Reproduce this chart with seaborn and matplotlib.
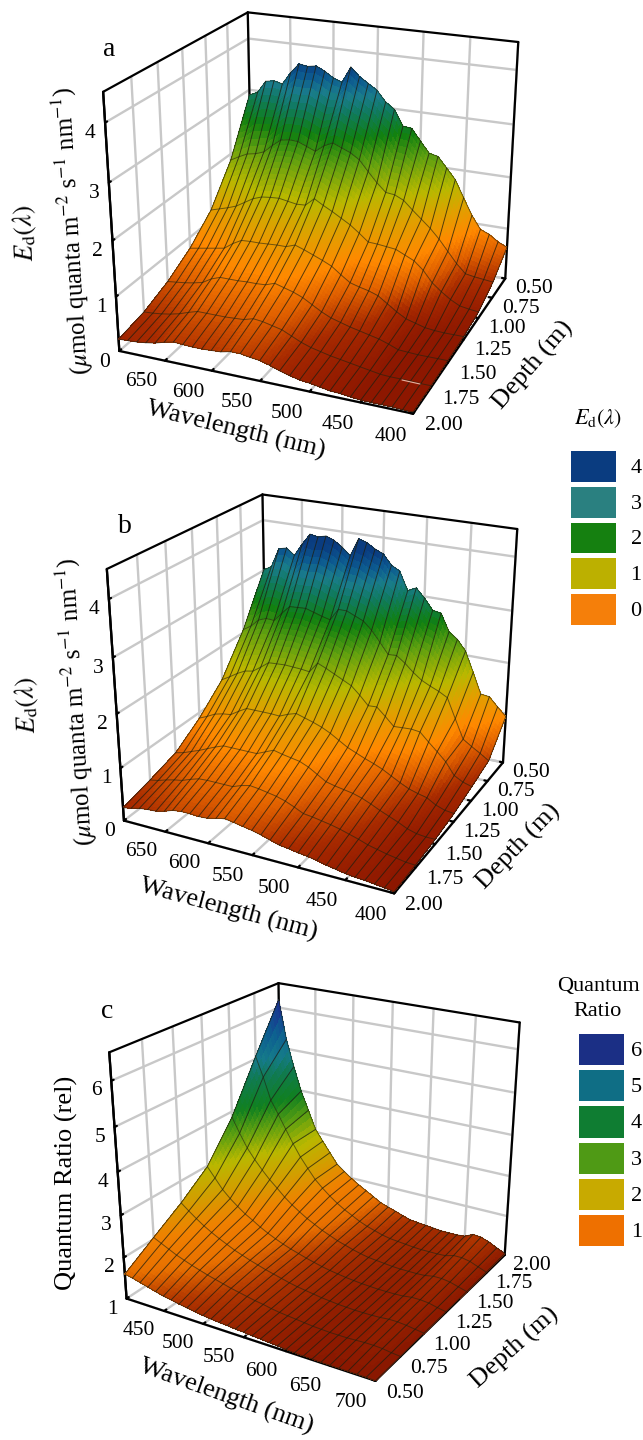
import numpy as np
import matplotlib
matplotlib.use("Agg")
import matplotlib.pyplot as plt
import seaborn as sns
from matplotlib.colors import LinearSegmentedColormap, Normalize
from matplotlib.lines import Line2D

W, H = 643, 1440

wavelengths = list(range(400, 701, 10))
depths = [0.50, 0.75, 1.00, 1.25, 1.50, 1.75, 2.00]

# values, one row per depth, 400 -> 700 nm
ed_a_050 = [.63,.71,.83,.90,1.15,1.47,1.80,2.00,2.20,2.24,2.45,2.67,2.69,2.99,3.11,3.31,3.42,3.53,3.69,3.38,3.44,3.55,3.63,3.60,3.63,3.44,3.20,3.24,3.21,2.97,2.90]
ed_a_075 = [.31,.33,.35,.38,.55,.76,.97,1.15,1.30,1.45,1.61,1.69,1.71,1.87,2.06,2.26,2.37,2.44,2.51,2.43,2.30,2.37,2.44,2.45,2.42,2.29,2.14,2.08,2.05,1.97,1.88]
ed_a_100 = [.12,.14,.17,.26,.38,.52,.73,.88,.96,1.04,1.06,1.08,1.09,1.23,1.36,1.46,1.56,1.65,1.75,1.60,1.59,1.62,1.65,1.64,1.62,1.56,1.46,1.36,1.30,1.25,1.20]
ed_a_125 = [.06,.06,.06,.07,.09,.14,.19,.29,.41,.53,.59,.63,.68,.80,.93,1.01,1.08,1.15,1.21,1.15,1.15,1.14,1.13,1.13,1.12,1.03,.91,.88,.85,.82,.79]
ed_a_150 = [.04,.04,.04,.04,.05,.06,.13,.19,.23,.27,.31,.36,.41,.49,.59,.69,.76,.81,.86,.80,.79,.79,.78,.78,.78,.72,.62,.58,.55,.53,.51]
ed_a_175 = [.03,.03,.04,.04,.04,.05,.08,.11,.14,.17,.20,.24,.28,.34,.42,.50,.54,.58,.60,.55,.54,.53,.53,.53,.53,.48,.42,.38,.35,.33,.32]
ed_a_200 = [.03,.03,.04,.04,.04,.04,.06,.08,.09,.12,.15,.17,.21,.26,.32,.37,.39,.42,.42,.38,.37,.36,.36,.37,.38,.34,.29,.26,.24,.23,.22]

ed_b_050 = [.94,1.10,1.27,1.29,1.69,2.08,2.28,2.40,2.73,2.76,2.97,3.14,3.06,3.41,3.50,3.69,3.76,3.86,3.91,3.56,3.70,3.81,3.87,3.83,3.86,3.64,3.40,3.52,3.48,3.10,3.01]
ed_b_075 = [.41,.52,.62,.73,1.10,1.48,1.57,1.64,1.72,1.84,1.99,2.11,2.10,2.31,2.51,2.66,2.73,2.80,2.80,2.57,2.61,2.66,2.71,2.70,2.69,2.53,2.36,2.37,2.31,2.16,2.06]
ed_b_100 = [.28,.33,.42,.65,.81,.96,1.12,1.14,1.13,1.12,1.28,1.43,1.42,1.59,1.74,1.82,1.90,1.98,2.05,1.85,1.87,1.88,1.89,1.88,1.87,1.75,1.64,1.61,1.53,1.43,1.34]
ed_b_125 = [.16,.18,.24,.34,.38,.43,.51,.60,.69,.76,.82,.89,.96,1.06,1.16,1.24,1.30,1.35,1.40,1.35,1.28,1.29,1.29,1.29,1.29,1.20,1.10,1.08,1.04,.96,.89]
ed_b_150 = [.09,.09,.11,.16,.24,.31,.38,.46,.53,.58,.61,.64,.68,.78,.88,.95,.98,1.01,1.05,.98,.91,.91,.91,.91,.91,.85,.78,.71,.65,.59,.55]
ed_b_175 = [.05,.06,.09,.12,.16,.20,.26,.31,.36,.40,.43,.46,.48,.56,.63,.68,.71,.74,.76,.72,.66,.66,.66,.66,.65,.60,.54,.51,.47,.42,.39]
ed_b_200 = [.03,.05,.07,.09,.10,.12,.15,.18,.22,.25,.27,.30,.32,.37,.42,.46,.49,.52,.55,.51,.47,.46,.47,.47,.45,.39,.35,.34,.32,.28,.25]

qr_050 = [1.60,1.56,1.51,1.46,1.41,1.36,1.33,1.29,1.26,1.23,1.20,1.18,1.16,1.15,1.13,1.12,1.10,1.09,1.07,1.06,1.04,1.03,1.02,1.02,1.01,1.01,1.01,1.01,1.01,1.01,1.00]
qr_075 = [2.04,1.95,1.86,1.77,1.70,1.63,1.57,1.51,1.46,1.41,1.36,1.32,1.28,1.24,1.21,1.17,1.14,1.12,1.10,1.08,1.06,1.05,1.04,1.04,1.04,1.05,1.06,1.06,1.05,1.02,1.00]
qr_100 = [2.47,2.32,2.18,2.05,1.94,1.84,1.75,1.66,1.59,1.52,1.46,1.40,1.35,1.30,1.25,1.21,1.18,1.15,1.12,1.10,1.08,1.07,1.06,1.06,1.06,1.07,1.09,1.09,1.07,1.04,1.01]
qr_125 = [2.98,2.74,2.50,2.32,2.17,2.03,1.92,1.80,1.70,1.61,1.53,1.46,1.40,1.34,1.29,1.24,1.20,1.17,1.14,1.12,1.10,1.09,1.08,1.08,1.08,1.09,1.12,1.12,1.10,1.05,1.01]
qr_150 = [3.86,3.50,3.17,2.92,2.70,2.50,2.33,2.15,2.00,1.87,1.75,1.65,1.55,1.47,1.39,1.33,1.27,1.22,1.18,1.16,1.14,1.12,1.11,1.11,1.11,1.12,1.16,1.16,1.13,1.07,1.01]
qr_175 = [5.06,4.58,4.04,3.72,3.38,3.05,2.75,2.50,2.26,2.08,1.92,1.78,1.66,1.56,1.46,1.38,1.32,1.26,1.22,1.20,1.18,1.16,1.15,1.15,1.15,1.16,1.22,1.22,1.18,1.10,1.02]
qr_200 = [6.20,5.24,4.58,3.99,3.53,3.07,2.80,2.54,2.28,2.13,1.99,1.87,1.76,1.65,1.54,1.47,1.41,1.34,1.28,1.26,1.24,1.22,1.20,1.20,1.20,1.22,1.32,1.30,1.23,1.13,1.04]

ed_ticks_z = [0, 1, 2, 3, 4]
qr_ticks_z = [1, 2, 3, 4, 5, 6]
x_ticks = [400, 450, 500, 550, 600, 650]
x_ticks_c = [450, 500, 550, 600, 650, 700]
depth_ticks = ["0.50", "0.75", "1.00", "1.25", "1.50", "1.75", "2.00"]

ed_legend_labels = ["4", "3", "2", "1", "0"]
ed_legend_colors = ["#f57f0a", "#bcb000", "#158010", "#2a8080", "#0a3c80"]
qr_legend_labels = ["6", "5", "4", "3", "2", "1"]
qr_legend_colors = ["#ee7000", "#c8aa00", "#4f9a15", "#0f7d32", "#0f6e85", "#1b2f85"]

ed_stops = [(0, "#8a1500"), (.3, "#a82a00"), (.6, "#e06000"), (.9, "#ff8800"), (1.3, "#e0a000"), (1.7, "#b8b800"),
            (2.2, "#60a010"), (2.6, "#108010"), (3.0, "#107a60"), (3.25, "#1a7c8c"), (3.5, "#0c5a90"), (3.75, "#0a3c80")]
qr_stops = [(1, "#8a1800"), (1.3, "#b03500"), (1.6, "#e87000"), (2.0, "#f08000"), (2.5, "#d0a000"), (3.0, "#b8b800"),
            (3.5, "#60a010"), (4.0, "#108020"), (4.6, "#107a50"), (5.0, "#157a8a"), (5.5, "#0d6090"), (6.2, "#1a2f90")]

sns.set_theme(style="white", rc={"xtick.major.width": 1.6, "ytick.major.width": 1.6})
plt.rcParams["font.family"] = ["Liberation Serif", "DejaVu Serif"]
plt.rcParams["mathtext.fontset"] = "stix"


def make_cmap(stops):
    lo, hi = stops[0][0], stops[-1][0]
    return LinearSegmentedColormap.from_list("s", [((v - lo) / (hi - lo), c) for v, c in stops]), Normalize(lo, hi)


def refine(values, n):
    # only splits each facet so the colour runs smoothly, the corners stay the read values
    old = np.arange(len(values))
    return np.interp(np.linspace(0, len(values) - 1, (len(values) - 1) * n + 1), old, values)


def panel(center, view, rows, zlim, zticks, stops, xticks, zside):
    S = 640
    cx, cy = center
    ax = fig.add_axes([(cx - S / 2) / W, (H - cy - S / 2) / H, S / W, S / H], projection="3d")
    ax.set_facecolor("none")
    ax.computed_zorder = False
    elev, azim, focal, by, bz, zoom = view
    ax.view_init(elev=elev, azim=azim)
    ax.set_proj_type("persp", focal_length=focal)
    ax.set_box_aspect((1, by, bz), zoom=zoom)
    ax.set_xlim(400, 700)
    ax.set_ylim(0.5, 2.0)
    ax.set_zlim(*zlim)

    Z = np.array(rows)
    fine_x = refine(wavelengths, 3)
    fine_y = refine(depths, 10)
    fine_z = np.array([refine(r, 3) for r in Z])
    fine_z = np.array([refine(c, 10) for c in fine_z.T]).T
    X, Y = np.meshgrid(fine_x, fine_y)
    cmap, norm = make_cmap(stops)
    ax.plot_surface(X, Y, fine_z, facecolors=cmap(norm(fine_z)), rstride=1, cstride=1,
                    shade=False, linewidth=0, antialiased=False, zorder=3)

    # wire lines
    for i, d in enumerate(depths):
        ax.plot(wavelengths, [d] * len(wavelengths), Z[i], color="#1e2410", lw=0.7, alpha=0.6, zorder=4)
    for j, w in enumerate(wavelengths):
        ax.plot([w] * len(depths), depths, Z[:, j], color="#1e1e10", lw=0.7, alpha=0.75, zorder=4)

    ax.set_xticks(xticks)
    ax.set_xticklabels([str(t) for t in xticks], ha="right", va="center")
    ax.set_yticks([float(t) for t in depth_ticks])
    ax.set_yticklabels(depth_ticks, ha="left", va="center")
    ax.set_zticks(zticks)
    ax.set_zticklabels([str(t) for t in zticks], ha="right", va="top")
    ax.zaxis.set_ticks_position(zside)
    for a in (ax.xaxis, ax.yaxis, ax.zaxis):
        a.set_pane_color((1, 1, 1, 1))
        a.pane.set_edgecolor("none")
        a.line.set_color("black")
        a.line.set_linewidth(1.6)
        a._axinfo["tick"]["inward_factor"] = 0.0
        a._axinfo["tick"]["outward_factor"] = 0.15
        a._axinfo["grid"].update(color="#c8c8c8", linewidth=1.7)
    ax.tick_params(axis="both", labelsize=15.5, colors="black")
    ax.tick_params(axis="x", pad=5)
    ax.tick_params(axis="y", pad=1)
    ax.tick_params(axis="z", pad=-3)

    # black box on the far edges
    near_y = 2.0 if azim > 0 else 0.5
    far_y = 0.5 if azim > 0 else 2.0
    near_x = 400 if azim > 0 else 700
    far_x = 700 if azim > 0 else 400
    top = zlim[1]
    bot = zlim[0]
    box = dict(color="black", lw=1.6, zorder=1)
    ax.plot([far_x, far_x], [near_y, near_y], [bot, top], **box)
    ax.plot([far_x, far_x], [far_y, far_y], [bot, top], **box)
    ax.plot([near_x, near_x], [far_y, far_y], [bot, top], **box)
    ax.plot([far_x, far_x], [near_y, far_y], [top, top], **box)
    ax.plot([far_x, near_x], [far_y, far_y], [top, top], **box)
    return ax


def label(x, y, s, size=19, rot=0, **kw):
    fig.text(x / W, 1 - y / H, s, fontsize=size, rotation=rot, ha="center", va="center",
             rotation_mode="anchor", color="black", **kw)


def legend_swatches(x0, y0, x1, y1, colors, labels, pad):
    lax = fig.add_axes([x0 / W, 1 - y1 / H, (x1 - x0) / W, (y1 - y0) / H])
    vals = np.arange(len(labels))[::-1].reshape(-1, 1)
    sns.heatmap(vals, ax=lax, cmap=sns.color_palette(colors), cbar=False, linewidths=2.2, linecolor="white",
                xticklabels=False, yticklabels=labels)
    lax.yaxis.tick_right()
    lax.tick_params(axis="y", length=0, labelsize=16, rotation=0, pad=pad, colors="black")


fig = plt.figure(figsize=(W / 100, H / 100), dpi=100, facecolor="white")

ed_a = [ed_a_050, ed_a_075, ed_a_100, ed_a_125, ed_a_150, ed_a_175, ed_a_200]
ed_b = [ed_b_050, ed_b_075, ed_b_100, ed_b_125, ed_b_150, ed_b_175, ed_b_200]
qr = [qr_050, qr_075, qr_100, qr_125, qr_150, qr_175, qr_200]

panel((313.8, 202.3), (22.18, 112.67, 0.402, 1.000, 0.875, 0.769), ed_a, (0, 4.5), ed_ticks_z, ed_stops, x_ticks, "upper")
panel((313.1, 682.6), (22.95, 116.82, 0.374, 0.993, 0.895, 0.743), ed_b, (0, 4.5), ed_ticks_z, ed_stops, x_ticks, "upper")
panel((313.3, 1170.0), (23.17, -58.63, 0.361, 0.997, 0.907, 0.729), qr, (1, 6.6), qr_ticks_z, qr_stops, x_ticks_c, "lower")

unit = r"($\mu$mol quanta m$^{-2}$ s$^{-1}$ nm$^{-1}$)"
ed_name = r"$E_{\mathrm{d}}(\lambda)$"

label(109, 50, "a", 20)
label(25, 233, ed_name, 19, 92)
label(72, 231, unit, 18, 93.5)
label(236, 430, "Wavelength (nm)", 19, -13.5)
label(533, 365, "Depth (m)", 19, 49)

label(125, 527, "b", 20)
label(27, 705, ed_name, 19, 92)
label(76, 702, unit, 18, 93.5)
label(228, 910, "Wavelength (nm)", 19, -15)
label(519, 847, "Depth (m)", 19, 46)

label(107, 1012, "c", 20)
label(66, 1183, "Quantum Ratio (rel)", 19, 90)
label(226, 1397, "Wavelength (nm)", 19, -19.5)
label(515, 1348, "Depth (m)", 19, 42)

label(598, 419, ed_name, 16)
legend_swatches(568, 448, 618, 627, ed_legend_colors, ed_legend_labels, 9)

label(598, 987, "Quantum", 16)
label(598, 1012, "Ratio", 16)
legend_swatches(576, 1031, 626, 1248, qr_legend_colors, qr_legend_labels, 3.5)

# pale scratch on panel a
fig.add_artist(Line2D([402 / W, 420 / W], [1 - 380 / H, 1 - 384 / H], color="#e8b0a0", lw=0.8))

fig.savefig("out.png", dpi=100)
